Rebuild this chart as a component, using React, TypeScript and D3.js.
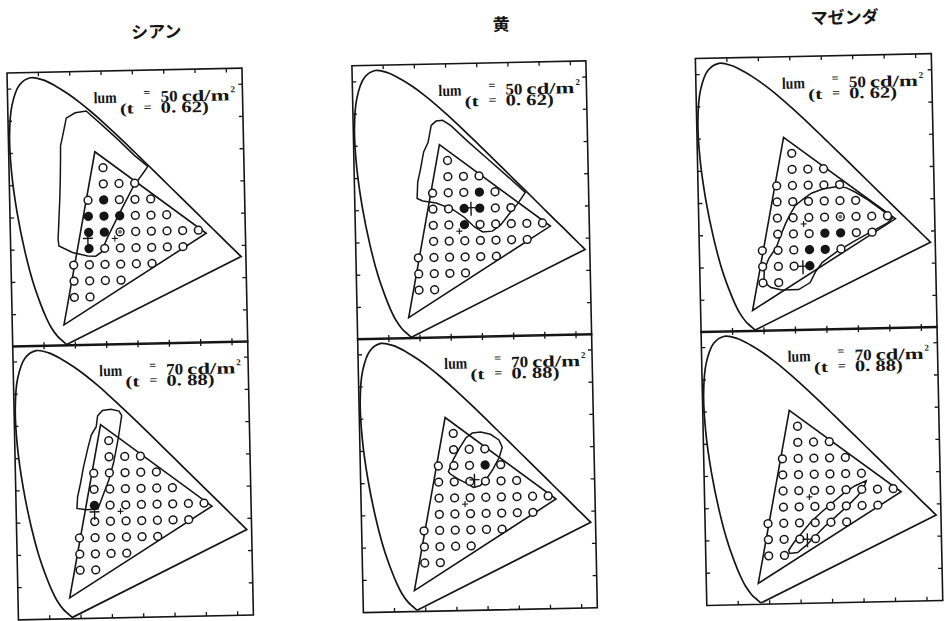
import React from 'react';
import * as d3 from 'd3';

// CIE 1931 spectral locus, 380 - 700 nm
const locusX = [0.1741, 0.1738, 0.1733, 0.1726, 0.1714, 0.1689, 0.1644, 0.1566, 0.144, 0.1241, 0.1096, 0.0913, 0.0687, 0.0454, 0.0235, 0.0082, 0.0039, 0.0139, 0.0389, 0.0743, 0.1142, 0.1547, 0.1929, 0.2296, 0.2658, 0.3016, 0.3373, 0.3731, 0.4087, 0.4441, 0.4788, 0.5125, 0.5448, 0.5752, 0.6029, 0.627, 0.6658, 0.6915, 0.7079, 0.719, 0.726, 0.73, 0.7334, 0.7347];
const locusY = [0.005, 0.0049, 0.0048, 0.0048, 0.0051, 0.0069, 0.0109, 0.0177, 0.0297, 0.0578, 0.0868, 0.1327, 0.2007, 0.295, 0.4127, 0.5384, 0.6548, 0.7502, 0.812, 0.8338, 0.8262, 0.8059, 0.7816, 0.7543, 0.7243, 0.6923, 0.6589, 0.6245, 0.5896, 0.5547, 0.5202, 0.4866, 0.4544, 0.4242, 0.3965, 0.3725, 0.334, 0.3083, 0.292, 0.2809, 0.274, 0.27, 0.2666, 0.2653];

// display gamut: G, R, B
const gamutX = [0.275, 0.625, 0.165];
const gamutY = [0.6, 0.34, 0.065];

// test colours, one row per y value
const rowY = [0.55, 0.5, 0.45, 0.4, 0.35, 0.3, 0.25, 0.2, 0.15];
const rowX = [
  [0.3],
  [0.3, 0.35, 0.4],
  [0.25, 0.3, 0.35, 0.4, 0.45],
  [0.25, 0.3, 0.35, 0.4, 0.45, 0.5],
  [0.25, 0.3, 0.35, 0.4, 0.45, 0.5, 0.55, 0.6],
  [0.25, 0.3, 0.35, 0.4, 0.45, 0.5, 0.55],
  [0.2, 0.25, 0.3, 0.35, 0.4, 0.45],
  [0.2, 0.25, 0.3, 0.35],
  [0.2, 0.25],
];

const hues = ['シアン', '黄', 'マゼンダ'];
const lums = [50, 70];
const tVals = ['0. 62', '0. 88'];
const xTicks = [0.1, 0.2, 0.3, 0.4, 0.5, 0.6, 0.7];
const yTicks = [0.1, 0.2, 0.3, 0.4, 0.5, 0.6, 0.7, 0.8];
const whitePoint = [0.333, 0.33];

// region outlines
const cyan50 = [[0.186, 0.706], [0.215, 0.722], [0.25, 0.727], [0.3, 0.682], [0.35, 0.636], [0.4, 0.587], [0.443, 0.551], [0.435, 0.54], [0.394, 0.487], [0.348, 0.405], [0.309, 0.332], [0.289, 0.288], [0.271, 0.276], [0.245, 0.277], [0.197, 0.289], [0.154, 0.31], [0.152, 0.332], [0.156, 0.394], [0.16, 0.456], [0.163, 0.518], [0.165, 0.58], [0.166, 0.621], [0.176, 0.662]];
const cyan70 = [[0.266, 0.627], [0.282, 0.644], [0.309, 0.647], [0.335, 0.641], [0.343, 0.627], [0.33, 0.553], [0.314, 0.481], [0.298, 0.429], [0.277, 0.378], [0.261, 0.339], [0.223, 0.337], [0.194, 0.342], [0.197, 0.378], [0.207, 0.419], [0.218, 0.471], [0.234, 0.532], [0.245, 0.569], [0.261, 0.594]];
const yellow50 = [[0.25, 0.66], [0.266, 0.673], [0.287, 0.675], [0.313, 0.658], [0.366, 0.608], [0.429, 0.552], [0.492, 0.496], [0.547, 0.446], [0.524, 0.414], [0.492, 0.378], [0.466, 0.347], [0.439, 0.328], [0.408, 0.326], [0.382, 0.342], [0.35, 0.373], [0.313, 0.398], [0.261, 0.419], [0.218, 0.426], [0.2, 0.434], [0.203, 0.485], [0.213, 0.526], [0.224, 0.578], [0.239, 0.608]];
const yellow70 = [[0.282, 0.432], [0.298, 0.468], [0.319, 0.504], [0.34, 0.535], [0.361, 0.55], [0.388, 0.553], [0.419, 0.545], [0.446, 0.527], [0.456, 0.504], [0.446, 0.473], [0.425, 0.437], [0.403, 0.406], [0.382, 0.386], [0.361, 0.381], [0.34, 0.394], [0.313, 0.408], [0.287, 0.425]];
const magenta50 = [[0.203, 0.153], [0.205, 0.19], [0.22, 0.225], [0.245, 0.26], [0.26, 0.297], [0.276, 0.333], [0.292, 0.363], [0.308, 0.388], [0.334, 0.408], [0.36, 0.425], [0.396, 0.437], [0.438, 0.443], [0.47, 0.44], [0.5, 0.425], [0.54, 0.4], [0.58, 0.37], [0.615, 0.342], [0.6, 0.328], [0.548, 0.302], [0.49, 0.272], [0.438, 0.243], [0.39, 0.21], [0.367, 0.18], [0.35, 0.148], [0.313, 0.127], [0.26, 0.127], [0.225, 0.135]];
const magenta70 = [[0.264, 0.166], [0.282, 0.191], [0.308, 0.22], [0.34, 0.256], [0.372, 0.283], [0.404, 0.309], [0.441, 0.338], [0.478, 0.361], [0.515, 0.377], [0.51, 0.363], [0.489, 0.333], [0.457, 0.302], [0.42, 0.271], [0.383, 0.24], [0.351, 0.21], [0.319, 0.179], [0.292, 0.158], [0.266, 0.156]];

// accepted (filled) and borderline (grey) samples
const cyan50Filled = [[0.3, 0.45], [0.25, 0.4], [0.3, 0.4], [0.35, 0.4], [0.25, 0.35], [0.3, 0.35], [0.25, 0.3]];
const cyan70Filled = [[0.25, 0.35]];
const yellow50Filled = [[0.4, 0.45], [0.35, 0.4], [0.4, 0.4], [0.35, 0.35]];
const yellow70Filled = [[0.4, 0.45]];
const magenta50Filled = [[0.4, 0.3], [0.45, 0.3], [0.35, 0.25], [0.4, 0.25], [0.35, 0.2]];
const magenta70Filled: number[][] = [];
const cyan50Grey = [[0.35, 0.35]];
const magenta50Grey = [[0.45, 0.35]];

// centre marks
const centreX = [0.247, 0.25, 0.372, 0.365, 0.328, 0.324];
const centreY = [0.332, 0.33, 0.402, 0.405, 0.199, 0.199];

const contours = [cyan50, cyan70, yellow50, yellow70, magenta50, magenta70];
const filled = [cyan50Filled, cyan70Filled, yellow50Filled, yellow70Filled, magenta50Filled, magenta70Filled];
const grey = [cyan50Grey, [], [], [], magenta50Grey, []];

const INK = '#151515';
const colLeft = [7, 352, 695.5];
const colWidth = [235, 234, 236];
const rowTop = [73, 346];
const panelH = 274;

function Panel({ idx }: { idx: number }) {
  const col = Math.floor(idx / 2);
  const row = idx % 2;
  const w = colWidth[col];
  const h = panelH;
  const x = d3.scaleLinear().domain([0, 0.75]).range([0, w]);
  const y = d3.scaleLinear().domain([0, 0.85]).range([h, 0]);
  const pts = locusX.map((v, i) => [v, locusY[i]] as [number, number]);
  const locus = d3.line<[number, number]>().x(d => x(d[0])).y(d => y(d[1])).curve(d3.curveCatmullRom)(pts) + 'Z';
  const tri = d3.line<number>().x(i => x(gamutX[i])).y(i => y(gamutY[i]))([0, 1, 2]) + 'Z';
  const region = d3.line<number[]>().x(d => x(d[0])).y(d => y(d[1])).curve(d3.curveLinearClosed)(contours[idx]);
  const samples: [number, number][] = [];
  rowY.forEach((yy, r) => rowX[r].forEach(xx => samples.push([xx, yy])));
  const isIn = (list: number[][], p: [number, number]) => list.some(q => Math.abs(q[0] - p[0]) < 1e-6 && Math.abs(q[1] - p[1]) < 1e-6);
  const cx = x(centreX[idx]);
  const cy = y(centreY[idx]);
  const wx = x(whitePoint[0]);
  const wy = y(whitePoint[1]);
  const serif = "'Liberation Serif', 'DejaVu Serif', serif";
  return (
    <g transform={`translate(${colLeft[col]}, ${rowTop[row]})`}>
      <rect x={0} y={0} width={w} height={h} fill="none" stroke={INK} strokeWidth={1.6} />
      {xTicks.map(t => (
        <g key={'x' + t}>
          <line x1={x(t)} x2={x(t)} y1={h} y2={h - 4} stroke={INK} strokeWidth={1.3} />
          <line x1={x(t)} x2={x(t)} y1={0} y2={4} stroke={INK} strokeWidth={1.3} />
        </g>
      ))}
      {yTicks.map(t => (
        <g key={'y' + t}>
          <line x1={0} x2={4} y1={y(t)} y2={y(t)} stroke={INK} strokeWidth={1.3} />
          <line x1={w} x2={w - 4} y1={y(t)} y2={y(t)} stroke={INK} strokeWidth={1.3} />
        </g>
      ))}
      <path d={locus} fill="none" stroke={INK} strokeWidth={1.7} />
      <path d={tri} fill="none" stroke={INK} strokeWidth={1.6} />
      <path d={region || ''} fill="none" stroke={INK} strokeWidth={1.5} />
      {samples.map((p, i) => {
        const f = isIn(filled[idx], p);
        const g = isIn(grey[idx], p);
        return (
          <g key={i}>
            <circle cx={x(p[0])} cy={y(p[1])} r={3.9} fill={f ? INK : '#fff'} stroke={INK} strokeWidth={1.5} />
            {g && <circle cx={x(p[0])} cy={y(p[1])} r={2} fill="#777" />}
          </g>
        );
      })}
      <line x1={cx - 5} x2={cx + 5} y1={cy} y2={cy} stroke={INK} strokeWidth={1.4} />
      <line x1={cx} x2={cx} y1={cy - 6} y2={cy + 8} stroke={INK} strokeWidth={1.4} />
      <line x1={wx - 3} x2={wx + 3} y1={wy} y2={wy} stroke={INK} strokeWidth={1.1} />
      <line x1={wx} x2={wx} y1={wy - 3} y2={wy + 3} stroke={INK} strokeWidth={1.1} />
      <g fontFamily={serif} fontWeight="bold" fill={INK}>
        <text x={86} y={32} fontSize={16} textLength={23} lengthAdjust="spacingAndGlyphs">lum</text>
        <text x={136} y={26} fontSize={11} textLength={7} lengthAdjust="spacingAndGlyphs">=</text>
        <text x={153} y={32} fontSize={16} textLength={17} lengthAdjust="spacingAndGlyphs">{lums[row]}</text>
        <text x={174} y={32} fontSize={16} textLength={48} lengthAdjust="spacingAndGlyphs">cd/m</text>
        <text x={223} y={24} fontSize={9}>2</text>
        <text x={112} y={43} fontSize={15} textLength={14} lengthAdjust="spacingAndGlyphs">(t</text>
        <text x={136} y={41} fontSize={12} textLength={8} lengthAdjust="spacingAndGlyphs">=</text>
        <text x={153} y={43} fontSize={16} textLength={48} lengthAdjust="spacingAndGlyphs">{tVals[row] + ')'}</text>
      </g>
    </g>
  );
}

export default function App() {
  return (
    <svg width={945} height={621} style={{ position: 'absolute', left: 0, top: 0, background: '#fff' }}>
      <rect width={945} height={621} fill="#fff" />
      <g transform="rotate(-1.2 7 73)">
        {hues.map((t, i) => (
          <text key={t} x={colLeft[i] + 150} y={41} textAnchor="middle" fontSize={17} fontWeight="bold"
            fontFamily="'Noto Sans CJK JP', sans-serif" fill={INK}>{t}</text>
        ))}
        {[0, 1, 2, 3, 4, 5].map(i => <Panel key={i} idx={i} />)}
      </g>
    </svg>
  );
}
